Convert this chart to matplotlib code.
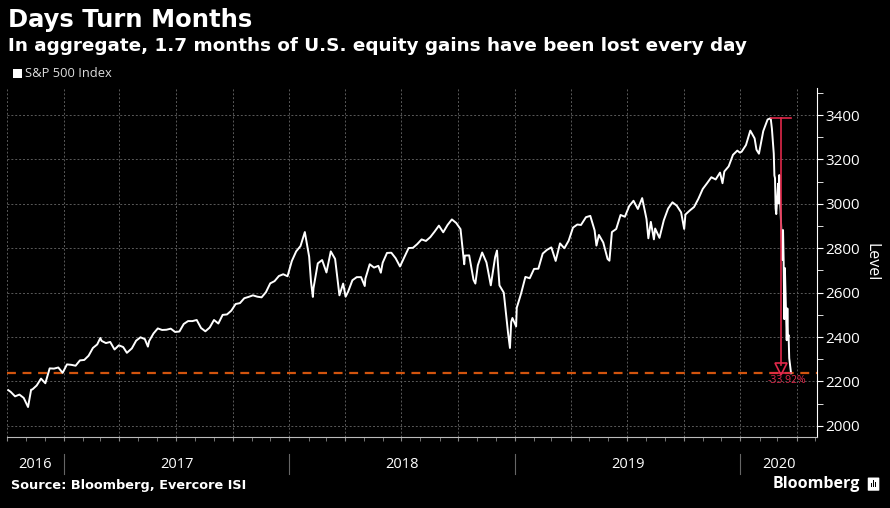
import matplotlib
matplotlib.use("Agg")
import matplotlib.pyplot as plt
import matplotlib.dates as mdates
import matplotlib.transforms as mtrans
from matplotlib.patches import Rectangle, FancyBboxPatch
import pandas as pd

# S&P 500 closes (weekly, daily around the big moves)
dates = [
    "2016-10-03", "2016-10-07", "2016-10-14", "2016-10-21", "2016-10-28", "2016-11-04", "2016-11-09",
    "2016-11-11", "2016-11-18", "2016-11-25", "2016-12-02", "2016-12-09", "2016-12-16", "2016-12-23",
    "2016-12-30", "2017-01-06", "2017-01-13", "2017-01-20", "2017-01-27", "2017-02-03", "2017-02-10",
    "2017-02-17", "2017-02-24", "2017-03-01", "2017-03-03", "2017-03-10", "2017-03-17", "2017-03-24",
    "2017-03-31", "2017-04-07", "2017-04-13", "2017-04-21", "2017-04-28", "2017-05-05", "2017-05-12",
    "2017-05-17", "2017-05-19", "2017-05-26", "2017-06-02", "2017-06-09", "2017-06-16", "2017-06-23",
    "2017-06-30", "2017-07-07", "2017-07-14", "2017-07-21", "2017-07-28", "2017-08-04", "2017-08-11",
    "2017-08-18", "2017-08-25", "2017-09-01", "2017-09-08", "2017-09-15", "2017-09-22", "2017-09-29",
    "2017-10-06", "2017-10-13", "2017-10-20", "2017-10-27", "2017-11-03", "2017-11-10", "2017-11-17",
    "2017-11-24", "2017-12-01", "2017-12-08", "2017-12-15", "2017-12-22", "2017-12-29", "2018-01-05",
    "2018-01-12", "2018-01-19", "2018-01-26", "2018-02-02", "2018-02-05", "2018-02-08", "2018-02-09",
    "2018-02-16", "2018-02-23", "2018-03-02", "2018-03-09", "2018-03-16", "2018-03-23", "2018-03-29",
    "2018-04-02", "2018-04-06", "2018-04-13", "2018-04-20", "2018-04-27", "2018-05-03", "2018-05-04",
    "2018-05-11", "2018-05-18", "2018-05-25", "2018-05-29", "2018-06-01", "2018-06-08", "2018-06-15",
    "2018-06-22", "2018-06-29", "2018-07-06", "2018-07-13", "2018-07-20", "2018-07-27", "2018-08-03",
    "2018-08-10", "2018-08-17", "2018-08-24", "2018-08-31", "2018-09-07", "2018-09-14", "2018-09-21",
    "2018-09-28", "2018-10-05", "2018-10-11", "2018-10-12", "2018-10-19", "2018-10-26", "2018-10-29",
    "2018-11-02", "2018-11-09", "2018-11-16", "2018-11-23", "2018-11-30", "2018-12-03", "2018-12-07",
    "2018-12-14", "2018-12-21", "2018-12-24", "2018-12-26", "2018-12-28", "2019-01-03", "2019-01-04",
    "2019-01-11", "2019-01-18", "2019-01-25", "2019-02-01", "2019-02-08", "2019-02-15", "2019-02-22",
    "2019-03-01", "2019-03-08", "2019-03-15", "2019-03-22", "2019-03-29", "2019-04-05", "2019-04-12",
    "2019-04-18", "2019-04-26", "2019-05-03", "2019-05-10", "2019-05-13", "2019-05-17", "2019-05-24",
    "2019-05-31", "2019-06-03", "2019-06-07", "2019-06-14", "2019-06-21", "2019-06-28", "2019-07-05",
    "2019-07-12", "2019-07-19", "2019-07-26", "2019-08-02", "2019-08-05", "2019-08-09", "2019-08-14",
    "2019-08-16", "2019-08-23", "2019-08-30", "2019-09-06", "2019-09-13", "2019-09-20", "2019-09-27",
    "2019-10-02", "2019-10-04", "2019-10-11", "2019-10-18", "2019-10-25", "2019-11-01", "2019-11-08",
    "2019-11-15", "2019-11-22", "2019-11-29", "2019-12-03", "2019-12-06", "2019-12-13", "2019-12-20",
    "2019-12-27", "2019-12-31", "2020-01-03", "2020-01-10", "2020-01-17", "2020-01-24", "2020-01-27",
    "2020-01-31", "2020-02-07", "2020-02-14", "2020-02-19", "2020-02-21", "2020-02-24", "2020-02-25",
    "2020-02-26", "2020-02-27", "2020-02-28", "2020-03-02", "2020-03-03", "2020-03-04", "2020-03-05",
    "2020-03-06", "2020-03-09", "2020-03-10", "2020-03-11", "2020-03-12", "2020-03-13", "2020-03-16",
    "2020-03-17", "2020-03-18", "2020-03-19", "2020-03-20", "2020-03-23",
]
spx = [
    2161, 2153, 2133, 2141, 2126, 2085, 2163,
    2164, 2182, 2213, 2192, 2259, 2258, 2263,
    2239, 2277, 2275, 2271, 2295, 2297, 2316,
    2351, 2367, 2396, 2383, 2373, 2378, 2344,
    2363, 2355, 2329, 2349, 2384, 2399, 2391,
    2357, 2382, 2416, 2439, 2432, 2433, 2438,
    2423, 2425, 2459, 2472, 2472, 2477, 2441,
    2426, 2443, 2477, 2461, 2500, 2502, 2519,
    2549, 2553, 2575, 2581, 2588, 2582, 2579,
    2602, 2642, 2652, 2675, 2683, 2674, 2743,
    2786, 2810, 2873, 2762, 2649, 2581, 2620,
    2732, 2747, 2691, 2786, 2752, 2588, 2641,
    2582, 2604, 2656, 2670, 2670, 2630, 2663,
    2728, 2713, 2721, 2690, 2735, 2779, 2780,
    2755, 2718, 2760, 2801, 2802, 2819, 2840,
    2833, 2850, 2875, 2902, 2872, 2905, 2930,
    2914, 2886, 2728, 2767, 2768, 2658, 2641,
    2723, 2781, 2736, 2633, 2760, 2790, 2633,
    2600, 2417, 2351, 2468, 2486, 2448, 2532,
    2596, 2671, 2665, 2707, 2708, 2776, 2793,
    2804, 2743, 2822, 2800, 2834, 2893, 2907,
    2905, 2940, 2946, 2881, 2812, 2860, 2826,
    2752, 2744, 2873, 2887, 2950, 2942, 2990,
    3014, 2977, 3026, 2932, 2845, 2919, 2840,
    2889, 2847, 2926, 2979, 3007, 2992, 2962,
    2887, 2952, 2970, 2986, 3023, 3067, 3093,
    3120, 3110, 3141, 3093, 3146, 3169, 3221,
    3240, 3231, 3235, 3265, 3330, 3295, 3244,
    3226, 3328, 3380, 3386, 3338, 3226, 3128,
    3116, 2979, 2954, 3091, 3003, 3130, 3024,
    2972, 2747, 2882, 2741, 2481, 2711, 2386,
    2529, 2398, 2409, 2305, 2237,
]

years = ["2016", "2017", "2018", "2019", "2020"]
peak_date, peak_val = "2020-02-19", 3386
trough_date, trough_val = "2020-03-23", 2237
drop_label = "-33.92%"

x = pd.to_datetime(dates)
x0, x1 = pd.Timestamp("2016-10-01"), pd.Timestamp("2020-05-04")

fig = plt.figure(figsize=(8.9, 5.08), dpi=100, facecolor="black")
ax = fig.add_axes([0.0079, 0.1398, 0.9101, 0.687], facecolor="black")

ax.plot(x, spx, color="white", lw=1.4, zorder=3)

# drawdown annotation
red = "#e0284a"
orange = "#d2540e"
ax.axhline(trough_val, color=orange, lw=1.6, ls=(0, (4, 3)), zorder=2)
pk, tr = pd.Timestamp(peak_date), pd.Timestamp(trough_date)
mid = pk + (tr - pk) / 2
ax.plot([pk, tr], [peak_val, peak_val], color=red, lw=1.2, zorder=4)
ax.plot([pk, tr], [trough_val, trough_val], color=red, lw=1.2, zorder=4)
ax.plot([mid, mid], [peak_val, trough_val + 35], color=red, lw=1.2, zorder=4)
ax.plot([mid], [trough_val + 18], marker="v", ms=8, mfc="none", mec=red, mew=1.2, zorder=4)
ax.text(mid + pd.Timedelta(days=10), trough_val - 10, drop_label, color=red, fontsize=7.5,
        ha="center", va="top", family="Open Sans", zorder=5)

ax.set_xlim(x0, x1)
ax.set_ylim(1950, 3522)

# grid
ax.xaxis.set_major_locator(mdates.MonthLocator(bymonth=[1, 4, 7, 10]))
ax.xaxis.set_minor_locator(mdates.MonthLocator())
ax.set_yticks(range(2000, 3401, 200))
ax.set_yticks(range(2000, 3501, 100), minor=True)
ax.grid(True, which="major", color="#5a5a5a", ls=(0, (2, 2)), lw=0.7)
ax.set_axisbelow(True)

for s in ["top", "left"]:
    ax.spines[s].set_visible(False)
ax.spines["right"].set_color("white")
ax.spines["bottom"].set_color("#bbbbbb")

ax.yaxis.tick_right()
ax.yaxis.set_label_position("right")
ax.tick_params(axis="y", which="major", colors="white", length=4, labelsize=11, pad=2)
ax.tick_params(axis="y", which="minor", colors="white", length=4)
ax.tick_params(axis="x", which="both", colors="#888888", length=3, labelbottom=False)
for lab in ax.get_yticklabels():
    lab.set_family("Open Sans")
ax.set_ylabel("Level", color="white", fontsize=11.5, rotation=270, labelpad=14, family="Open Sans")

# year labels and separators below the axis
trans = mtrans.blended_transform_factory(ax.transData, fig.transFigure)
for i, yr in enumerate(years):
    a = max(pd.Timestamp(yr + "-01-01"), x0)
    b = min(pd.Timestamp(str(int(yr) + 1) + "-01-01"), x1)
    ax.text(a + (b - a) / 2, 0.085, yr, transform=trans, color="white", fontsize=10.5,
            ha="center", va="center", family="Open Sans", clip_on=False)
    if i > 0:
        ax.plot([pd.Timestamp(yr + "-01-01")] * 2, [0.067, 0.106], transform=trans,
                color="#666666", lw=0.8, clip_on=False)

# titles and legend
fig.text(0.009, 0.961, "Days Turn Months", color="white", fontsize=17.5, fontweight="bold",
         va="center", ha="left")
fig.text(0.009, 0.909, "In aggregate, 1.7 months of U.S. equity gains have been lost every day",
         color="white", fontsize=13.2, fontweight="bold", va="center", ha="left")
fig.patches.append(Rectangle((0.015, 0.846), 0.0095, 0.0175, transform=fig.transFigure,
                             facecolor="white", edgecolor="none"))
fig.text(0.028, 0.855, "S&P 500 Index", color="#dddddd", fontsize=9.3, va="center", ha="left",
         family="Open Sans")

fig.text(0.012, 0.045, "Source: Bloomberg, Evercore ISI", color="white", fontsize=9.3,
         fontweight="bold", va="center", ha="left")
fig.text(0.966, 0.048, "Bloomberg", color="white", fontsize=11.5, fontweight="bold",
         va="center", ha="right", family="Open Sans")
fig.patches.append(FancyBboxPatch((0.976, 0.035), 0.011, 0.024, boxstyle="round,pad=0.001",
                                  transform=fig.transFigure, facecolor="white", edgecolor="none"))
for k, h in enumerate([0.008, 0.014, 0.011]):
    fig.patches.append(Rectangle((0.9785 + k * 0.0025, 0.041), 0.0012, h,
                                 transform=fig.transFigure, facecolor="black", edgecolor="none"))

fig.savefig("out.png", dpi=100, facecolor="black")
